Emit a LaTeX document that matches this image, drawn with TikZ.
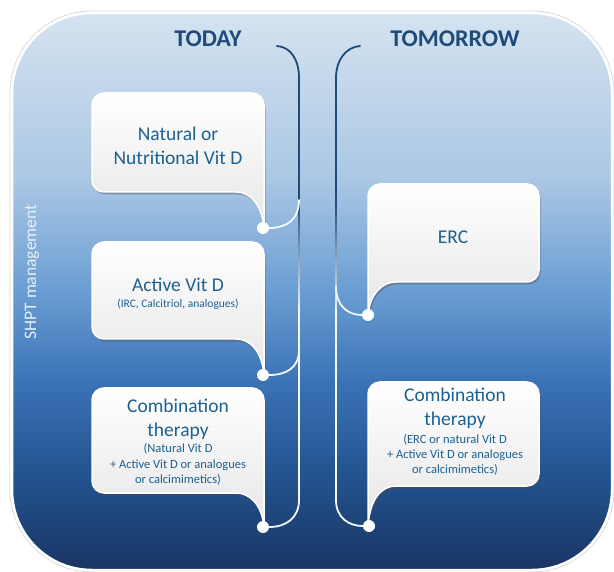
\documentclass[tikz,border=0pt]{standalone}
\usepackage{fontspec}
\setmainfont{Carlito}
\usetikzlibrary{shadows,calc}
\definecolor{bgA}{HTML}{D5E3F0}
\definecolor{bgB}{HTML}{AAC7E4}
\definecolor{bgC}{HTML}{6A9DD2}
\definecolor{bgD}{HTML}{3B73B6}
\definecolor{bgE}{HTML}{245592}
\definecolor{bgF}{HTML}{183563}
\definecolor{navy}{HTML}{1F4A7A}
\definecolor{lwhite}{HTML}{F4F8FB}
\definecolor{txt}{HTML}{1D6190}
\definecolor{ttl}{HTML}{1F4B7B}
\definecolor{shpt}{HTML}{E8F0F8}
\definecolor{boxbot}{HTML}{E6E6E6}
\pgfdeclareverticalshading{bgshade}{100bp}{color(0bp)=(bgF); color(25bp)=(bgF); color(34bp)=(bgE); color(42bp)=(bgD); color(50bp)=(bgC); color(60bp)=(bgB); color(75bp)=(bgA); color(100bp)=(bgA)}
\newcommand{\calloutL}[5]{% L T R B dotY
  \path[callout] (#1+12,-#2) -- (#3-12,-#2) arc[start angle=90,end angle=0,radius=12] -- (#3,-#5)
    .. controls (#3-2,-#4-12) and (#3-14,-#4) .. (#3-28,-#4) -- (#1+12,-#4)
    arc[start angle=270,end angle=180,radius=12] -- (#1,-#2-12)
    arc[start angle=180,end angle=90,radius=12] -- cycle;}
\newcommand{\calloutR}[5]{% L T R B dotY
  \path[callout] (#1+12,-#2) -- (#3-12,-#2) arc[start angle=90,end angle=0,radius=12] -- (#3,-#4+12)
    arc[start angle=0,end angle=-90,radius=12] -- (#1+28,-#4)
    .. controls (#1+14,-#4) and (#1+2,-#4-12) .. (#1,-#5) -- (#1,-#2-12)
    arc[start angle=180,end angle=90,radius=12] -- cycle;}
\newcommand{\gradseg}[2]{%
  \foreach \gi in {0,...,19}{%
    \pgfmathtruncatemacro{\gP}{100-5*\gi}%
    \pgfmathsetmacro{\gA}{\gi/20}%
    \pgfmathsetmacro{\gB}{(\gi+1)/20}%
    \draw[conn, color=navy!\gP!lwhite] ($(#1)!\gA!(#2)$) -- ($(#1)!\gB!(#2)$);
  }}
\tikzset{
  callout/.style={draw=white, line width=1.5pt, top color=white, bottom color=boxbot,
    drop shadow={shadow xshift=1.5pt, shadow yshift=-2.5pt, opacity=0.4, fill=black!70}},
  tx/.style={text=txt, inner sep=0pt, anchor=base},
  big/.style={tx, font=\fontsize{19.5}{23}\selectfont},
  small/.style={tx, font=\fontsize{12.5}{15}\selectfont},
  ttlstyle/.style={text=ttl, inner sep=0pt, anchor=base, font=\fontsize{24}{28}\selectfont\bfseries},
  dotnode/.style={circle, fill=white, minimum size=12pt, inner sep=0pt},
  conn/.style={line width=1.8pt, line cap=round},
}
\begin{document}
\begin{tikzpicture}[x=1pt,y=1pt]
\useasboundingbox (0,0) rectangle (614,-572);
\fill[white] (0,0) rectangle (614,-572);
% frame
\draw[black!15, line width=0.8pt, rounded corners=82pt] (10,-11) rectangle (614,-572);
\path[shading=bgshade, draw=white, line width=2.5pt, rounded corners=80pt] (12,-13) rectangle (612,-570);
% titles
\node[ttlstyle] (today) at (208,-47) {TODAY};
\node[ttlstyle] (tomorrow) at (455,-47) {TOMORROW};
\node[text=shpt, rotate=90, inner sep=0pt, font=\fontsize{17.5}{20}\selectfont] (shpt) at (32,-272) {SHPT management};
% callouts
\calloutL{92}{93}{264}{192}{228}
\calloutL{92}{242}{264}{339}{375}
\calloutL{92}{388}{264}{493}{527}
\calloutR{368}{184}{539}{282}{315}
\calloutR{368}{382}{539}{486}{526}
% texts
\node[big] (t1a) at (178,-141) {Natural or};
\node[big] (t1b) at (178,-165) {Nutritional Vit D};
\node[big] (t2a) at (178,-292) {Active Vit D};
\node[tx, font=\fontsize{11.5}{14}\selectfont] (t2b) at (178,-308) {(IRC, Calcitriol, analogues)};
\node[big] (t3a) at (178,-413) {Combination};
\node[big] (t3b) at (178,-436) {therapy};
\node[small] (t3c) at (178,-453) {(Natural Vit D};
\node[small] (t3d) at (178,-468) {+ Active Vit D or analogues};
\node[small] (t3e) at (178,-483) {or calcimimetics)};
\node[big] (t4) at (453,-244) {ERC};
\node[big] (t5a) at (455,-402) {Combination};
\node[big] (t5b) at (455,-425) {therapy};
\node[small] (t5c) at (455,-443) {(ERC or natural Vit D};
\node[small] (t5d) at (455,-458) {+ Active Vit D or analogues};
\node[small] (t5e) at (455,-473) {or calcimimetics)};
% dots
\node[dotnode] (d1) at (263,-228) {};
\node[dotnode] (d2) at (263,-375) {};
\node[dotnode] (d3) at (263,-527) {};
\node[dotnode] (d4) at (368,-315) {};
\node[dotnode] (d5) at (369,-526) {};
% left bracket
\coordinate (ls) at (277,-46);
\coordinate (lt) at (299,-78);
\coordinate (lg1) at (299,-200);
\coordinate (lg2) at (299,-310);
\coordinate (lb) at (299,-500);
\coordinate (lj1) at (299,-200);
\coordinate (lj2) at (299,-350);
\draw[conn, navy] (ls) .. controls (291,-47) and (299,-60) .. (lt) -- (lg1);
\gradseg{lg1}{lg2}
\draw[conn, lwhite] (lg2) -- (lb);
\draw[conn, lwhite] (lj1) .. controls (299,-220) and (286,-228) .. (d1);
\draw[conn, lwhite] (lj2) .. controls (299,-368) and (286,-375) .. (d2);
\draw[conn, lwhite] (lb) .. controls (299,-518) and (286,-527) .. (d3);
% right bracket
\coordinate (rs) at (360,-46);
\coordinate (rt) at (336,-78);
\coordinate (rg1) at (336,-200);
\coordinate (rg2) at (336,-310);
\coordinate (rb) at (336,-500);
\coordinate (rj1) at (336,-287);
\draw[conn, navy] (rs) .. controls (346,-47) and (336,-60) .. (rt) -- (rg1);
\gradseg{rg1}{rg2}
\draw[conn, lwhite] (rg2) -- (rb);
\draw[conn, lwhite] (rj1) .. controls (336,-306) and (348,-315) .. (d4);
\draw[conn, lwhite] (rb) .. controls (336,-518) and (349,-526) .. (d5);
\end{tikzpicture}
\end{document}
